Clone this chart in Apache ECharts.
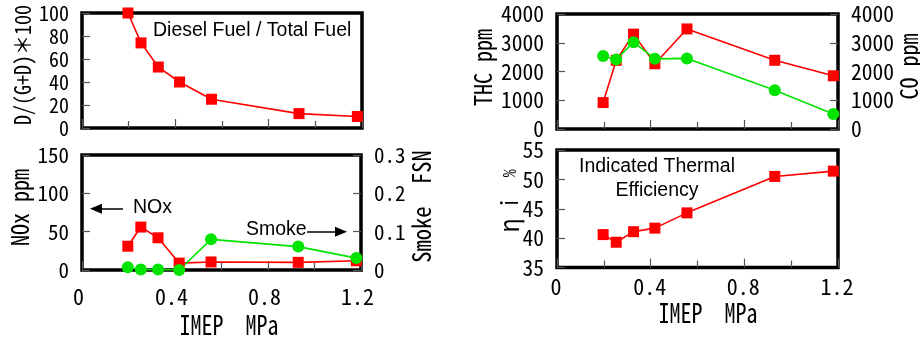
<!DOCTYPE html>
<html>
<head>
<meta charset="utf-8">
<script src="https://cdn.jsdelivr.net/npm/echarts@6/dist/echarts.min.js"></script>
<style>html,body{margin:0;padding:0;background:#fff;}#c{width:920px;height:337px;}</style>
</head>
<body>
<div id="c"></div>
<script>
// ---- data ----
const imep = [0.197, 0.253, 0.327, 0.418, 0.555, 0.93, 1.18];
const dieselShare = [100, 74, 53, 40, 25, 12.5, 10];
const nox = [31, 56, 42, 9, 10.5, 10, 12];
const smoke = [0.007, 0.001, 0.001, 0, 0.08, 0.061, 0.031];
const thc = [920, 2390, 3300, 2270, 3480, 2390, 1850];
const co = [2540, 2420, 3020, 2440, 2455, 1350, 520];
const etaI = [40.6, 39.3, 41.1, 41.7, 44.3, 50.5, 51.4];
const xTickLabels = {0: '0', 0.4: '0.4', 0.8: '0.8', 1.2: '1.2'};
const smokeTickLabels = {0: '0', 0.1: '0.1', 0.2: '0.2', 0.3: '0.3'};

const MONO = "'Noto Sans Mono CJK JP', 'Noto Sans CJK JP', monospace";
const CJK = "'Noto Sans CJK JP', sans-serif";
const SANS = "'Liberation Sans', Arial, sans-serif";
const RED = '#ff0000', GREEN = '#00e400', TICK = '#555';

function pairs(xs, ys) { return xs.map((x, i) => [x, ys[i]]); }

function xAxis(gridIndex, showLabel, labelMargin, shift) {
  return {
    type: 'value', gridIndex, min: 0, max: 1.2, interval: 0.4,
    axisLine: {show: false},
    axisTick: {show: true, inside: true, length: 9, lineStyle: {color: TICK, width: 1.2}},
    minorTick: {show: true, splitNumber: 2, length: 7, lineStyle: {color: TICK, width: 1.2}},
    splitLine: {show: false},
    axisLabel: {show: showLabel, margin: labelMargin, fontFamily: MONO, fontSize: 22, color: '#000',
      padding: [0, shift || 0, 0, 0],
      formatter: v => xTickLabels[Math.round(v * 10) / 10] ?? ''}
  };
}
function yAxis(gridIndex, position, min, max, interval, fontSize, fmt) {
  return {
    type: 'value', gridIndex, position, min, max, interval,
    axisLine: {show: false},
    axisTick: {show: true, inside: true, length: 8, lineStyle: {color: TICK, width: 1.2}},
    splitLine: {show: false},
    axisLabel: {margin: 13, fontFamily: MONO, fontSize, color: '#000', formatter: fmt || (v => String(v))}
  };
}
function vName(text, cx, cy, size, rich) {
  const style = {text, font: size + 'px ' + MONO, fill: '#000', align: 'center', verticalAlign: 'middle'};
  if (rich) style.rich = rich;
  return {type: 'text', x: cx, y: cy, rotation: Math.PI / 2, scaleY: 1.12, silent: true, style};
}

const gridBase = {show: true, borderColor: '#000', borderWidth: 3.5, backgroundColor: 'transparent',
  containLabel: false, outerBoundsMode: 'none'};

const option = {
  animation: false,
  backgroundColor: '#fff',
  grid: [
    Object.assign({left: 82, top: 13, width: 280, height: 115}, gridBase),
    Object.assign({left: 82, top: 155, width: 279, height: 115}, gridBase),
    Object.assign({left: 557, top: 14, width: 281, height: 115}, gridBase),
    Object.assign({left: 557, top: 150, width: 281, height: 117.5}, gridBase)
  ],
  xAxis: [
    xAxis(0, false, 0),
    xAxis(1, true, 16, 7),
    xAxis(2, false, 0),
    xAxis(3, true, 8, 2)
  ],
  yAxis: [
    yAxis(0, 'left', 0, 100, 20, 20),
    yAxis(1, 'left', 0, 150, 50, 21),
    yAxis(1, 'right', 0, 0.3, 0.1, 21, v => smokeTickLabels[Math.round(v * 10) / 10] ?? ''),
    yAxis(2, 'left', 0, 4000, 1000, 21.5),
    yAxis(2, 'right', 0, 4000, 1000, 21.5),
    yAxis(3, 'left', 35, 55, 5, 21.5)
  ],
  series: [
    {type: 'line', xAxisIndex: 0, yAxisIndex: 0, data: pairs(imep, dieselShare),
     symbol: 'rect', symbolSize: 11, itemStyle: {color: RED}, lineStyle: {color: RED, width: 1.6}},
    {type: 'line', xAxisIndex: 1, yAxisIndex: 1, data: pairs(imep, nox),
     symbol: 'rect', symbolSize: 11, itemStyle: {color: RED}, lineStyle: {color: RED, width: 1.6},
     markLine: {silent: true, symbol: ['none', 'triangle'], symbolSize: [10, 12], label: {show: false},
       lineStyle: {color: '#000', width: 1.5, type: 'solid'},
       data: [[{coord: [0.176, 80]}, {coord: [0.06, 80]}]]}},
    {type: 'line', xAxisIndex: 1, yAxisIndex: 2, data: pairs(imep, smoke),
     symbol: 'circle', symbolSize: 12, itemStyle: {color: GREEN}, lineStyle: {color: GREEN, width: 1.6},
     markLine: {silent: true, symbol: ['none', 'triangle'], symbolSize: [10, 12], label: {show: false},
       lineStyle: {color: '#000', width: 1.5, type: 'solid'},
       data: [[{coord: [0.968, 0.1]}, {coord: [1.114, 0.1]}]]}},
    {type: 'line', xAxisIndex: 2, yAxisIndex: 3, data: pairs(imep, thc),
     symbol: 'rect', symbolSize: 11, itemStyle: {color: RED}, lineStyle: {color: RED, width: 1.6}},
    {type: 'line', xAxisIndex: 2, yAxisIndex: 4, data: pairs(imep, co),
     symbol: 'circle', symbolSize: 12, itemStyle: {color: GREEN}, lineStyle: {color: GREEN, width: 1.6}},
    {type: 'line', xAxisIndex: 3, yAxisIndex: 5, data: pairs(imep, etaI),
     symbol: 'rect', symbolSize: 11, itemStyle: {color: RED}, lineStyle: {color: RED, width: 1.6}}
  ],
  graphic: [
    {type: 'text', x: 153, y: 21, style: {text: 'Diesel Fuel / Total Fuel', font: '19.5px ' + SANS, fill: '#000'}},
    {type: 'text', x: 133, y: 198, style: {text: 'NOx', font: '19.5px ' + SANS, fill: '#000'}},
    {type: 'text', x: 246, y: 220, style: {text: 'Smoke', font: '19.5px ' + SANS, fill: '#000'}},
    {type: 'text', x: 657, y: 155, style: {text: 'Indicated Thermal\nEfficiency', font: '19.5px ' + SANS,
      fill: '#000', align: 'center', lineHeight: 23.5}},
    {type: 'text', x: 229, y: 325, scaleY: 1.2, style: {text: 'IMEP  MPa', font: '22px ' + MONO,
      fill: '#000', align: 'center', verticalAlign: 'middle'}},
    {type: 'text', x: 708, y: 313, scaleY: 1.2, style: {text: 'IMEP  MPa', font: '22px ' + MONO,
      fill: '#000', align: 'center', verticalAlign: 'middle'}},
    vName('D/(G+D)＊100', 22, 65, 20),
    vName('NOx ppm', 20, 207.5, 22),
    vName('Smoke  FSN', 421, 206.5, 22.5),
    vName('THC ppm', 483, 67.5, 22),
    vName('CO ppm', 909, 66.5, 22),
    vName('{g|η} i  {p|%}', 509, 201, 20.5, {
      g: {font: '24px ' + CJK, fill: '#000', verticalAlign: 'middle'},
      p: {font: '16px ' + MONO, fill: '#000', verticalAlign: 'middle'}
    })
  ]
};

const chart = echarts.init(document.getElementById('c'), null, {renderer: 'canvas'});
chart.setOption(option);
</script>
</body>
</html>
